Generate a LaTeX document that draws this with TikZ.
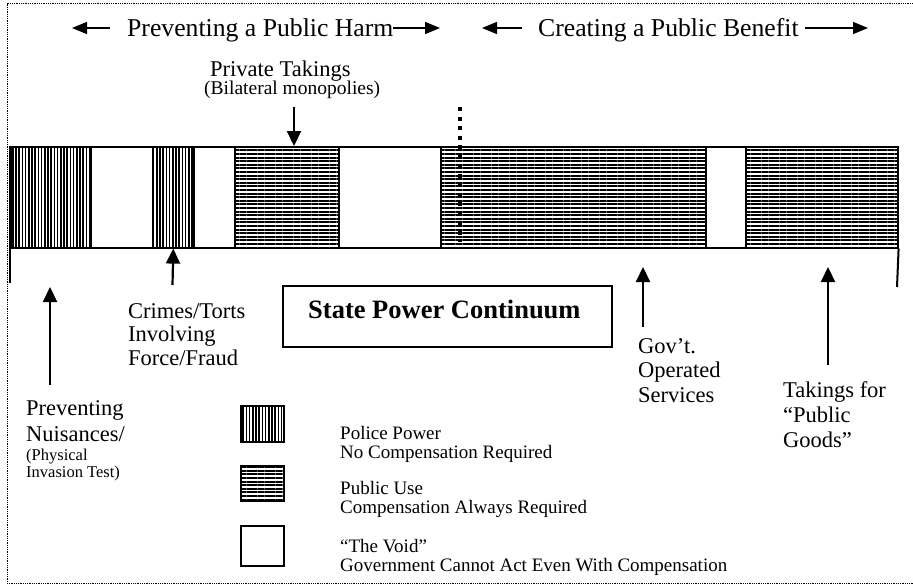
\documentclass[tikz,border=0pt]{standalone}
\usepackage{fontspec}
\setmainfont{Liberation Serif}
\usetikzlibrary{patterns.meta,arrows.meta}
\newcommand\mlines[1]{\vtop{\halign{##\hfil\cr#1\crcr}}}
\begin{document}
\begin{tikzpicture}[x=1pt,y=-1pt,
  seg/.style={draw, line width=1.6pt, inner sep=0pt, minimum height=101pt, anchor=north west},
  vhatch/.style={pattern={Lines[angle=90,distance=3.2pt,line width=1.5pt]}},
  hhatch/.style={pattern={Lines[angle=0,distance=3.6pt,line width=1.9pt]}},
  void/.style={fill=white},
  legbox/.style={draw, line width=1.5pt, inner sep=0pt, minimum width=43pt, anchor=north west},
  big/.style={font=\fontsize{25.7}{28}\selectfont, inner sep=0pt, anchor=base west},
  lab/.style={font=\fontsize{22.5}{23.5}\selectfont, inner sep=0pt, anchor=base west},
  leg/.style={font=\fontsize{19}{19}\selectfont, inner sep=0pt, anchor=base west},
  arr/.style={line width=2.2pt, -{Triangle[length=15pt,width=14pt]}},
  harr/.style={line width=1.6pt, -{Triangle[length=15pt,width=12pt]}},
  frame/.style={line width=1pt, dash pattern=on 1pt off 0.8pt}
]
\useasboundingbox (0,0) rectangle (913,586);
% frame
\coordinate (f1) at (913,4);
\coordinate (f2) at (7,4);
\coordinate (f3) at (7,583);
\coordinate (f4) at (913,583);
\draw[frame] (f1) -- (f2) -- (f3) -- (f4);

% headings
\node[big] (harm) at (127,37) {Preventing a Public Harm};
\node[big] (benefit) at (538,37) {Creating a Public Benefit};
\coordinate (ha1) at (110,28); \coordinate (ha2) at (72,28);
\coordinate (ha3) at (393,28); \coordinate (ha4) at (440,28);
\coordinate (ba1) at (522,28); \coordinate (ba2) at (482,28);
\coordinate (ba3) at (805,28); \coordinate (ba4) at (868,28);
\draw[harr] (ha1) -- (ha2);
\draw[harr] (ha3) -- (ha4);
\draw[harr] (ba1) -- (ba2);
\draw[harr] (ba3) -- (ba4);

% bar segments
\node[seg,vhatch,minimum width=80pt] (s1) at (10,146) {};
\node[seg,void,minimum width=62pt] (s2) at (90,146) {};
\node[seg,vhatch,minimum width=41pt] (s3) at (152,146) {};
\node[seg,void,minimum width=41pt] (s4) at (193,146) {};
\node[seg,hhatch,minimum width=104pt] (s5) at (234,146) {};
\node[seg,void,minimum width=102pt] (s6) at (338,146) {};
\node[seg,hhatch,minimum width=265pt] (s7) at (440,146) {};
\node[seg,void,minimum width=40pt] (s8) at (705,146) {};
\node[seg,hhatch,minimum width=152pt] (s9) at (745,146) {};

% end lines
\coordinate (lend) at (10,283);
\coordinate (rend) at (897,287);
\draw[line width=2pt] (s1.north west) -- (lend);
\draw[line width=2pt] (s9.south east) -- (rend);

% dotted divider
\coordinate (dtop) at (460,107);
\coordinate (dbot) at (460,242);
\draw[line width=4pt, dash pattern=on 4pt off 5.5pt] (dtop) -- (dbot);

% private takings
\node[lab] (privt) at (210,77) {Private Takings};
\node[font=\fontsize{19.5}{20}\selectfont, inner sep=0pt, anchor=base west] (bilat) at (204,95) {(Bilateral monopolies)};
\coordinate (ptA) at (294,107);
\draw[arr] (ptA) -- (ptA |- s5.north);

% crimes
\node[lab] (crimes) at (128,318) {\mlines{Crimes/Torts\cr Involving\cr Force/Fraud}};
\coordinate (crA) at (172.5,285);
\draw[arr] (crA) -- (s3.south);

% preventing nuisances
\node[font=\fontsize{22.5}{26}\selectfont, inner sep=0pt, anchor=base west] (prev) at (26,415) {\mlines{Preventing\cr Nuisances/}};
\node[font=\fontsize{16.5}{17}\selectfont, inner sep=0pt, anchor=base west] (phys) at (26,460) {\mlines{(Physical\cr Invasion Test)}};
\coordinate (pnA) at (50,385);
\coordinate (pnB) at (50,287);
\draw[arr] (pnA) -- (pnB);

% state power box
\node[draw, line width=1.5pt, minimum width=329pt, minimum height=61pt, inner sep=0pt] (stbox) at (447.5,316.5) {};
\node[font=\fontsize{26.5}{28}\selectfont\bfseries, inner sep=0pt, anchor=base west] (stlabel) at (308,318) {State Power Continuum};

% gov't
\node[font=\fontsize{22.5}{24.5}\selectfont, inner sep=0pt, anchor=base west] (gov) at (638,353) {\mlines{Gov’t.\cr Operated\cr Services}};
\coordinate (gvA) at (643,327);
\coordinate (gvB) at (643,267);
\draw[arr] (gvA) -- (gvB);

% takings for public goods
\node[font=\fontsize{22.5}{25}\selectfont, inner sep=0pt, anchor=base west] (tak) at (783,397) {\mlines{Takings for\cr “Public\cr Goods”}};
\coordinate (tkA) at (828,365);
\coordinate (tkB) at (828,267);
\draw[arr] (tkA) -- (tkB);

% legend
\node[legbox,vhatch,minimum height=36pt] (lg1) at (240,405) {};
\node[legbox,hhatch,minimum height=35pt] (lg2) at (240,465) {};
\node[legbox,void,minimum height=40pt] (lg3) at (240,525) {};
\node[leg] (lt1) at (340,439) {\mlines{Police Power\cr No Compensation Required}};
\node[leg] (lt2) at (340,494) {\mlines{Public Use\cr Compensation Always Required}};
\node[leg] (lt3) at (340,552) {\mlines{“The Void”\cr Government Cannot Act Even With Compensation}};
\end{tikzpicture}
\end{document}
